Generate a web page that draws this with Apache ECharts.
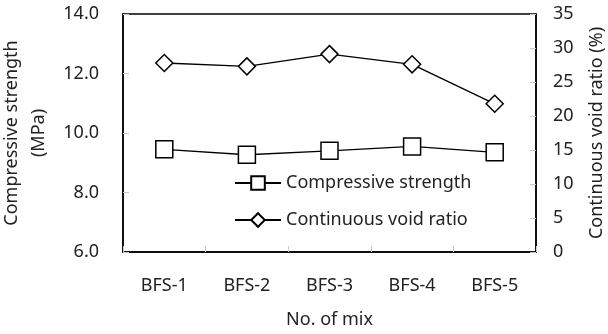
<!DOCTYPE html>
<html>
<head>
<meta charset="utf-8">
<style>
  html, body { margin: 0; padding: 0; background: #fff; }
  #chart { width: 608px; height: 334px; }
</style>
<script src="https://cdn.jsdelivr.net/npm/echarts@6/dist/echarts.min.js"></script>
</head>
<body>
<div id="chart"></div>
<script>
// Mix designations along the horizontal axis
const mixes = ['BFS-1', 'BFS-2', 'BFS-3', 'BFS-4', 'BFS-5'];
// Compressive strength (MPa), left axis
const compressiveStrength = [9.45, 9.27, 9.40, 9.55, 9.35];
// Continuous void ratio (%), right axis
const voidRatio = [27.8, 27.3, 29.1, 27.6, 21.8];

const FONT = '"Noto Sans", sans-serif';
const TXT = '#222';
const FS = 18;

const chart = echarts.init(document.getElementById('chart'), null, { renderer: 'canvas' });

const option = {
  animation: false,
  textStyle: { fontFamily: FONT },
  grid: {
    left: 123, right: 72, top: 14, bottom: 82,
    outerBoundsMode: 'none',
    containLabel: false,
    show: true, borderColor: '#000', borderWidth: 1.5, backgroundColor: 'transparent'
  },
  legend: {
    orient: 'vertical',
    left: 229, top: 169,
    itemWidth: 46, itemHeight: 17, itemGap: 19,
    textStyle: { fontFamily: FONT, fontSize: FS, color: TXT },
    data: ['Compressive strength', 'Continuous void ratio']
  },
  xAxis: {
    type: 'category',
    data: mixes,
    boundaryGap: true,
    name: 'No. of mix',
    nameLocation: 'middle',
    nameGap: 59,
    nameTextStyle: { fontFamily: FONT, fontSize: FS, color: TXT },
    axisLine: { lineStyle: { color: '#000', width: 1.5 } },
    axisTick: { show: true, inside: true, length: 6, lineStyle: { color: '#c8c8c8' } },
    axisLabel: { fontFamily: FONT, fontSize: FS, color: TXT, margin: 25 }
  },
  yAxis: [
    {
      type: 'value',
      min: 6, max: 14, interval: 2,
      name: 'Compressive strength\n(MPa)',
      nameLocation: 'middle',
      nameGap: 69,
      nameRotate: 90,
      nameTextStyle: { fontFamily: FONT, fontSize: FS, color: TXT, lineHeight: 27 },
      axisLine: { show: true, lineStyle: { color: '#000', width: 1.5 } },
      axisTick: { show: true, inside: true, length: 6, lineStyle: { color: '#c8c8c8' } },
      axisLabel: { fontFamily: FONT, fontSize: FS, color: TXT, margin: 24,
        formatter: v => v.toFixed(1) },
      splitLine: { show: false }
    },
    {
      type: 'value',
      min: 0, max: 35, interval: 5,
      name: 'Continuous void ratio (%)',
      nameLocation: 'middle',
      nameGap: 52,
      nameRotate: 90,
      nameTextStyle: { fontFamily: FONT, fontSize: FS, color: TXT },
      axisLine: { show: true, lineStyle: { color: '#000', width: 1.5 } },
      axisTick: { show: true, inside: true, length: 6, lineStyle: { color: '#c8c8c8' } },
      axisLabel: { fontFamily: FONT, fontSize: FS, color: TXT, margin: 17 },
      splitLine: { show: false }
    }
  ],
  series: [
    {
      name: 'Compressive strength',
      type: 'line',
      yAxisIndex: 0,
      data: compressiveStrength,
      symbol: 'rect',
      symbolSize: 17,
      lineStyle: { color: '#000', width: 1.4 },
      itemStyle: { color: '#fff', borderColor: '#000', borderWidth: 1.5 },
      z: 3
    },
    {
      name: 'Continuous void ratio',
      type: 'line',
      yAxisIndex: 1,
      data: voidRatio,
      symbol: 'diamond',
      symbolSize: 17,
      lineStyle: { color: '#000', width: 1.4 },
      itemStyle: { color: '#fff', borderColor: '#000', borderWidth: 1.5 },
      z: 3
    }
  ]
};

chart.setOption(option);
</script>
</body>
</html>
